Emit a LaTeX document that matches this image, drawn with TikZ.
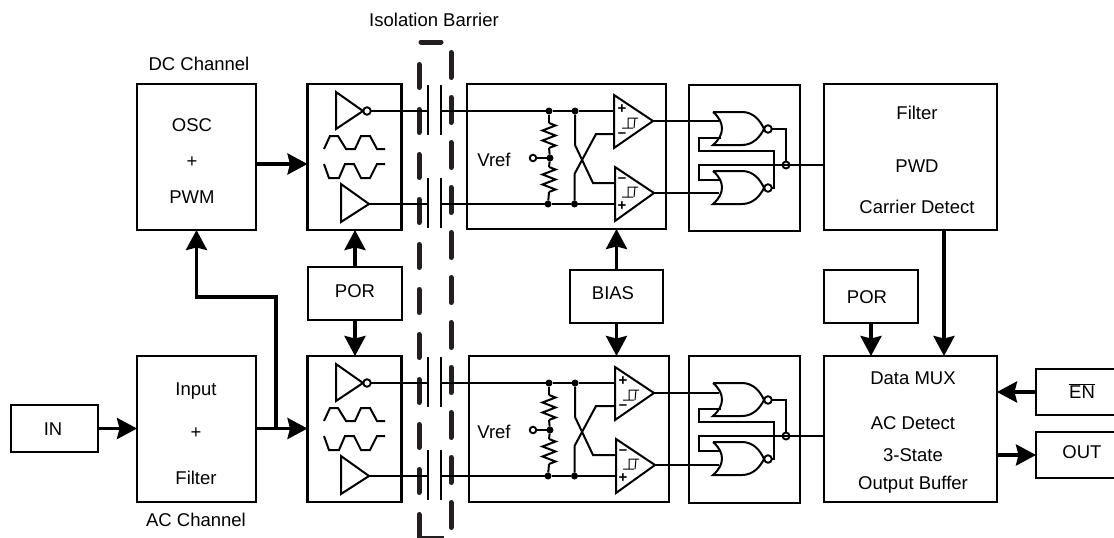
\documentclass[tikz,border=0pt]{standalone}
\usepackage{fontspec}
\setmainfont{Liberation Sans}
\usetikzlibrary{arrows.meta,decorations.pathmorphing}
\definecolor{barriercol}{HTML}{231F20}
\tikzset{
  blk/.style={draw,line width=2.8pt,outer sep=0pt,inner sep=0pt},
  lbl/.style={inner sep=0pt,font=\fontsize{18.5}{22}\selectfont},
  sgn/.style={inner sep=0pt,font=\fontsize{15}{15}\selectfont\bfseries},
  wire/.style={line width=2pt},
  bus/.style={line width=3.6pt,->},
  bubble/.style={draw,circle,line width=1.9pt,minimum size=7.5pt,inner sep=0pt,outer sep=0pt},
  dot/.style={fill,circle,minimum size=7pt,inner sep=0pt,outer sep=0pt},
  resist/.style={wire,decorate,decoration={zigzag,amplitude=6.5pt,segment length=10pt}},
  barrier/.style={line width=5pt,line cap=round,color=barriercol},
  norgate/.pic={
    \draw[wire](0,0)--(29,0)..controls (40,0) and (47,8) .. (51,17)
      ..controls (47,25) and (40,33) .. (29,33)--(0,33)
      ..controls (6,28) and (9,22) .. (9,16.5)..controls (9,11) and (6,5) .. (0,0);
  }
}
\begin{document}
\begin{tikzpicture}[x=1pt,y=-1pt,>={Stealth[length=20pt,width=21pt,inset=2.5pt]}]
\useasboundingbox (0,0) rectangle (1114,538);
% isolation barrier
\draw[barrier](421,42)--(441,42);
\draw[barrier,dash pattern=on 23pt off 22pt](419,64.5)--(419,537);
\draw[barrier,dash pattern=on 25pt off 20pt](451,52.5)--(451,528);
\draw[color=barriercol,line width=1.5pt](419,537.2)--(444,537.2);
% boxes
\node[blk,minimum width=119pt,minimum height=146pt](osc) at (196.5,157){};
\node[blk,minimum width=119pt,minimum height=146pt](input) at (196.5,429){};
\node[blk,minimum width=87pt,minimum height=47pt](in) at (54.5,428.5){};
\node[blk,minimum width=94pt,minimum height=146pt](drvt) at (354.5,157){};
\node[blk,minimum width=94pt,minimum height=146pt](drvb) at (354.5,429){};
\node[blk,minimum width=199pt,minimum height=145pt](cmpt) at (566.5,156.5){};
\node[blk,minimum width=200pt,minimum height=146pt](cmpb) at (569,429){};
\node[blk,minimum width=111pt,minimum height=146pt](gatet) at (744.5,158){};
\node[blk,minimum width=111pt,minimum height=147pt](gateb) at (744.5,429.5){};
\node[blk,minimum width=173pt,minimum height=146pt](filt) at (910.5,157){};
\node[blk,minimum width=173pt,minimum height=146pt](mux) at (910.5,429){};
\node[blk,minimum width=94pt,minimum height=53pt](porl) at (355,293.5){};
\node[blk,minimum width=93pt,minimum height=53pt](bias) at (616.5,296.5){};
\node[blk,minimum width=94pt,minimum height=53pt](porr) at (871,296.5){};
% these two run off the right edge
\node[minimum width=78pt,minimum height=46pt,inner sep=0pt,outer sep=0pt](en) at (1075,392){};
\node[minimum width=78pt,minimum height=46pt,inner sep=0pt,outer sep=0pt](out) at (1075,455){};
\draw[line width=2.8pt](en.north east)--(en.north west)--(en.south west)--(en.south east);
\draw[line width=2.8pt](out.north east)--(out.north west)--(out.south west)--(out.south east);
% texts
\node[lbl](tbar) at (434,20){Isolation Barrier};
\node[lbl](tdc) at (199,64){DC Channel};
\node[lbl](tac) at (196,520){AC Channel};
\node[lbl](tosc) at (192,125){OSC};
\node[lbl](tpa) at (192,162){+};
\node[lbl](tpwm) at (192,197){PWM};
\node[lbl](tinp) at (196,391){Input};
\node[lbl](tpb) at (196,433){+};
\node[lbl](tfil) at (196,478){Filter};
\node[lbl](tin) at (53,429){IN};
\node[lbl](tporl) at (355,291.5){POR};
\node[lbl](tbias) at (613,293){BIAS};
\node[lbl](tporr) at (867,297){POR};
\node[lbl](tfa) at (917,113){Filter};
\node[lbl](tpwd) at (917,166){PWD};
\node[lbl](tcar) at (917,207){Carrier Detect};
\node[lbl](tmux) at (913,378){Data MUX};
\node[lbl](tacd) at (913,423){AC Detect};
\node[lbl](tsta) at (913,455){3-State};
\node[lbl](tbuf) at (913,485){Output Buffer};
\node[lbl](ten) at (1082,391){$\overline{\mbox{EN}}$};
\node[lbl](tout) at (1082,452){OUT};
% the two channels
\foreach \c/\dy/\dx in {t/0/0,b/272/1}{
\begin{scope}[shift={(0,\dy)}]
\draw[wire](336,92)--(336,129)--(363,111)--cycle;
\node[bubble](inv\c) at (367,111){};
\draw[wire](341,184)--(341,222)--(369,204)coordinate(buf\c)--cycle;
\draw[wire](324,149)--(330,136)--(338,136)--(346,149)--(355,149)--(361,136)--(370,136)--(377,149)--(385,149);
\draw[wire](324,164)--(329,178)--(339,178)--(345,164)--(354,164)--(361,178)--(370,178)--(377,164)--(385,164);
% capacitors
\draw[wire](428,85)--(428,135);
\draw[wire](441,85)--(441,135);
\draw[wire](428,178)--(428,228);
\draw[wire](441,178)--(441,228);
\coordinate(ca\c) at (428,111);
\coordinate(cb\c) at (441,111);
\coordinate(cc\c) at (428,204);
\coordinate(cd\c) at (441,204);
\node[dot](da\c) at (549,111){};
\node[dot](db\c) at (575,111){};
\node[dot](dc\c) at (548,204){};
\node[dot](dd\c) at (574.5,204){};
\node[dot](dm\c) at (550,158){};
\node[bubble,minimum size=6.5pt](vr\c) at (533,158){};
\node[lbl](tv\c) at (494,159.5){Vref};
\draw[wire](inv\c)--(ca\c);
\draw[wire](buf\c)--(cc\c);
\draw[wire](vr\c)--(dm\c);
\draw[wire](da\c)--(549,123)coordinate(ra\c);
\draw[resist](ra\c)--(549,148)coordinate(rb\c);
\draw[wire](rb\c)--(dm\c)--(549,167)coordinate(rc\c);
\draw[resist](rc\c)--(549,192)coordinate(rd\c);
\draw[wire](rd\c)--(dc\c);
% comparators
\begin{scope}[shift={(\dx,0)}]
\draw[wire](614,95)--(614,148)--(653,121)coordinate(oa\c)--cycle;
\draw[wire](615,167)--(615,221)--(654,193)coordinate(ob\c)--cycle;
\coordinate(ip\c) at (614,111);
\coordinate(im\c) at (614,134);
\coordinate(jm\c) at (615,183);
\coordinate(jp\c) at (615,204);
\node[sgn](pa\c) at (622,109){+};
\node[sgn](ma\c) at (622,135){--};
\node[sgn](mb\c) at (622,180){--};
\node[sgn](pb\c) at (622,206){+};
\draw[line width=1pt](622,128)--(633,128)(628,128)--(628,118)--(638,118)(635,118)--(634,128);
\draw[line width=1pt](622,197)--(633,197)(628,197)--(628,187)--(638,187)(635,187)--(634,197);
\end{scope}
\draw[wire](cb\c)--(da\c)--(db\c)--(ip\c);
\draw[wire](cd\c)--(dc\c)--(dd\c)--(jp\c);
\draw[wire](db\c)--(575,145)--(593,183)--(jm\c);
\draw[wire](dd\c)--(574.5,174)--(596,134)--(im\c);
% gates
\begin{scope}[shift={(0,-\dx)}]
\pic at (713,112){norgate};
\pic at (713,171){norgate};
\node[bubble](ga\c) at (768,129){};
\node[bubble](gb\c) at (768,188){};
\node[draw,circle,line width=1.9pt,minimum size=7pt,inner sep=0pt,outer sep=0pt](jc\c) at (786,165){};
\coordinate(ia\c) at (719,121);
\coordinate(ib\c) at (719,193);
\draw[wire](ga\c)-|(jc\c);
\draw[wire](721,138)--(699,138)--(699,151)--(774,151)--(774,188)--(gb\c);
\draw[wire](721,180)--(699,180)--(699,165)--(jc\c.center);
\draw[wire](jc\c.center)--(jc\c-|filt.west);
\end{scope}
\draw[wire](oa\c)--(oa\c-|ia\c);
\draw[wire](ob\c)--(ob\c-|ib\c);
\end{scope}
}
% arrows between the blocks
\coordinate(oscr) at (osc.east|-0,164);
\coordinate(tap) at (276,428.5);
\coordinate(bend) at (276,297);
\coordinate(enl) at (en.west);
\coordinate(outl) at (out.west);
\draw[bus](oscr)--(oscr-|drvt.west);
\draw[bus](in.east)--(input.west|-in.east);
\draw[bus](input.east|-in.east)--(drvb.west|-in.east);
\draw[bus](tap)--(bend)-|(osc.south);
\draw[bus](porl.north)--(drvt.south-|porl.north);
\draw[bus](porl.south)--(drvb.north-|porl.south);
\draw[bus](bias.north)--(cmpt.south-|bias.north);
\draw[bus](bias.south)--(cmpb.north-|bias.south);
\draw[bus](porr.south)--(mux.north-|porr.south);
\draw[bus](filt.south-|944,0)--(mux.north-|944,0);
\draw[bus](enl)--(mux.east|-enl);
\draw[bus](mux.east|-outl)--(outl);
\end{tikzpicture}
\end{document}
